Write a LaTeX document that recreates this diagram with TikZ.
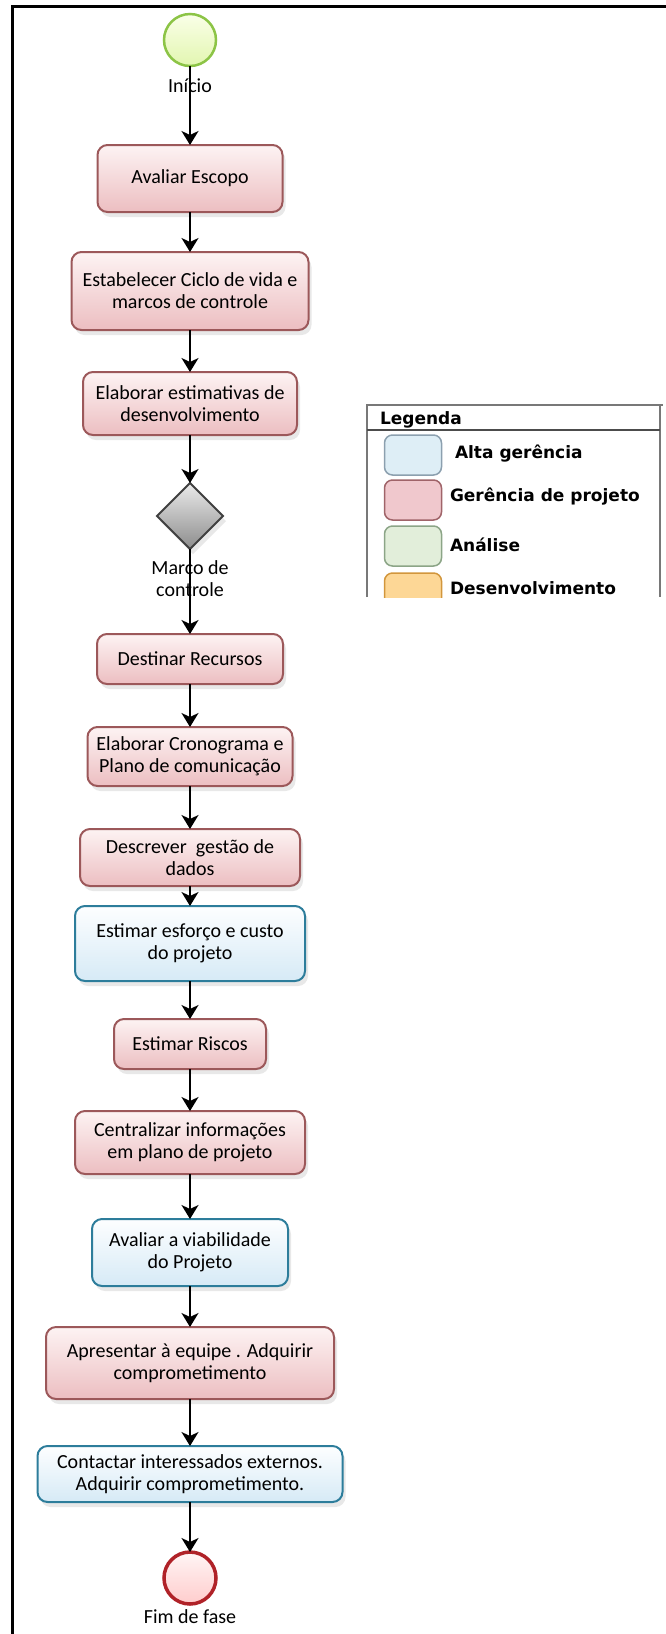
\documentclass[tikz,border=0pt]{standalone}
\usepackage{fontspec}
\setmainfont{Carlito}
\newfontfamily\legfont{DejaVu Sans}
\usetikzlibrary{positioning,arrows.meta,shapes.geometric,shadows}

\definecolor{redline}{RGB}{156,88,90}
\definecolor{redtop}{RGB}{253,243,243}
\definecolor{redbot}{RGB}{236,190,193}
\definecolor{blueline}{RGB}{45,125,155}
\definecolor{bluetop}{RGB}{253,254,255}
\definecolor{bluebot}{RGB}{214,234,246}
\definecolor{greenline}{RGB}{140,196,70}
\definecolor{greentop}{RGB}{250,255,232}
\definecolor{greenbot}{RGB}{226,246,176}
\definecolor{endline}{RGB}{176,34,40}
\definecolor{legline}{RGB}{120,120,120}

\begin{document}
\begin{tikzpicture}[x=1pt, y=-1pt,
    font=\fontsize{20}{22}\selectfont,
    every node/.style={outer sep=0pt},
    gerencia/.style={rectangle, draw=redline, line width=2pt, rounded corners=10pt,
                     top color=redtop, bottom color=redbot, align=center,
                     drop shadow={shadow xshift=3pt, shadow yshift=-5pt, opacity=0.18}},
    alta/.style={rectangle, draw=blueline, line width=2pt, rounded corners=10pt,
                 top color=bluetop, bottom color=bluebot, align=center,
                 drop shadow={shadow xshift=3pt, shadow yshift=-5pt, opacity=0.18}},
    evtstart/.style={circle, draw=greenline, line width=2.5pt, minimum size=52pt,
                     inner sep=0pt, top color=greentop, bottom color=greenbot},
    evtend/.style={circle, draw=endline, line width=3.5pt, minimum size=52pt,
                   inner sep=0pt, top color=red!4, bottom color=red!20},
    marco/.style={diamond, draw=black!75, line width=2pt, minimum size=66pt,
                  inner sep=0pt, top color=black!8, bottom color=black!45,
                  drop shadow={shadow xshift=3pt, shadow yshift=-5pt, opacity=0.18}},
    evlabel/.style={inner sep=0pt, align=center},
    arrow/.style={-{Stealth[length=14pt, width=17pt, inset=4pt]}, line width=1.8pt},
    swatch/.style={rectangle, rounded corners=8pt, line width=1.5pt,
                   minimum width=57pt, minimum height=40pt},
    legtxt/.style={font=\legfont\bfseries\fontsize{17}{20}\selectfont, inner sep=0pt}
  ]
  \useasboundingbox (0,0) rectangle (666,1634);
  % frame
  \draw[line width=3pt] (666,6) -- (12,6) -- (12,1634);

  % ----- flow -----
  \node[evtstart] (start) at (190,40) {};
  \node[evlabel, below=13pt of start] (startlbl) {Início};
  \node[gerencia, minimum width=185pt, minimum height=67pt, below=79pt of start]
       (escopo) {Avaliar Escopo};
  \node[gerencia, minimum width=237pt, minimum height=78pt, below=40pt of escopo]
       (ciclo) {Estabelecer Ciclo de vida e\\marcos de controle};
  \node[gerencia, minimum width=214pt, minimum height=63pt, below=42pt of ciclo]
       (estim) {Elaborar estimativas de\\desenvolvimento};
  \node[marco, below=48pt of estim] (mc) {};
  \node[evlabel, below=12pt of mc] (mclbl) {Marco de\\controle};
  \node[gerencia, minimum width=186pt, minimum height=50pt, below=85pt of mc]
       (recursos) {Destinar Recursos};
  \node[gerencia, minimum width=205pt, minimum height=59pt, below=43pt of recursos]
       (crono) {Elaborar Cronograma e\\Plano de comunicação};
  \node[gerencia, minimum width=220pt, minimum height=57pt, below=43pt of crono]
       (dados) {Descrever~ gestão de\\dados};
  \node[alta, minimum width=230pt, minimum height=75pt, below=20pt of dados]
       (esforco) {Estimar esforço e custo\\do projeto};
  \node[gerencia, minimum width=152pt, minimum height=50pt, below=38pt of esforco]
       (riscos) {Estimar Riscos};
  \node[gerencia, minimum width=230pt, minimum height=63pt, below=42pt of riscos]
       (plano) {Centralizar informações\\em plano de projeto};
  \node[alta, minimum width=196pt, minimum height=67pt, below=45pt of plano]
       (viab) {Avaliar a viabilidade\\do Projeto};
  \node[gerencia, minimum width=288pt, minimum height=72pt, below=41pt of viab]
       (equipe) {Apresentar à equipe . Adquirir\\comprometimento};
  \node[alta, minimum width=305pt, minimum height=56pt, below=47pt of equipe]
       (externos) {Contactar interessados externos.\\Adquirir comprometimento.};
  \node[evtend, below=50pt of externos] (fim) {};
  \node[evlabel, below=6pt of fim] (fimlbl) {Fim de fase};

  \draw[arrow] (start.south) -- (escopo.north);
  \draw[arrow] (escopo.south) -- (ciclo.north);
  \draw[arrow] (ciclo.south) -- (estim.north);
  \draw[arrow] (estim.south) -- (mc.north);
  \draw[arrow] (mc.south) -- (recursos.north);
  \draw[arrow] (recursos.south) -- (crono.north);
  \draw[arrow] (crono.south) -- (dados.north);
  \draw[arrow] (dados.south) -- (esforco.north);
  \draw[arrow] (esforco.south) -- (riscos.north);
  \draw[arrow] (riscos.south) -- (plano.north);
  \draw[arrow] (plano.south) -- (viab.north);
  \draw[arrow] (viab.south) -- (equipe.north);
  \draw[arrow] (equipe.south) -- (externos.north);
  \draw[arrow] (externos.south) -- (fim.north);

  % ----- legend -----
  \begin{scope}
    \clip (360,398) rectangle (666,597);
    \draw[legline, line width=1.2pt] (367,597) -- (367,405) -- (663,405);
    \draw[legline, line width=1.2pt] (660,405) -- (660,597);
    \draw[black!70, line width=1.2pt] (367,430) -- (660,430);
    \node[legtxt, anchor=west] (legtit) at (380,420) {Legenda};
    \node[swatch, draw={rgb,255:red,140;green,160;blue,175}, fill={rgb,255:red,222;green,238;blue,246}] (swalta) at (413,455) {};
    \node[swatch, draw={rgb,255:red,160;green,100;blue,105}, fill={rgb,255:red,240;green,200;blue,205}] (swger) at (413,500) {};
    \node[swatch, draw={rgb,255:red,140;green,165;blue,135}, fill={rgb,255:red,226;green,238;blue,218}] (swana) at (413,546) {};
    \node[swatch, draw={rgb,255:red,210;green,150;blue,60}, fill={rgb,255:red,253;green,215;blue,150}] (swdes) at (413,593) {};
    \node[legtxt, anchor=west] (txalta) at (455,454) {Alta gerência};
    \node[legtxt, anchor=west] (txger) at (450,497) {Gerência de projeto};
    \node[legtxt, anchor=west] (txana) at (450,545) {Análise};
    \node[legtxt, anchor=west] (txdes) at (450,588) {Desenvolvimento};
  \end{scope}
\end{tikzpicture}
\end{document}
